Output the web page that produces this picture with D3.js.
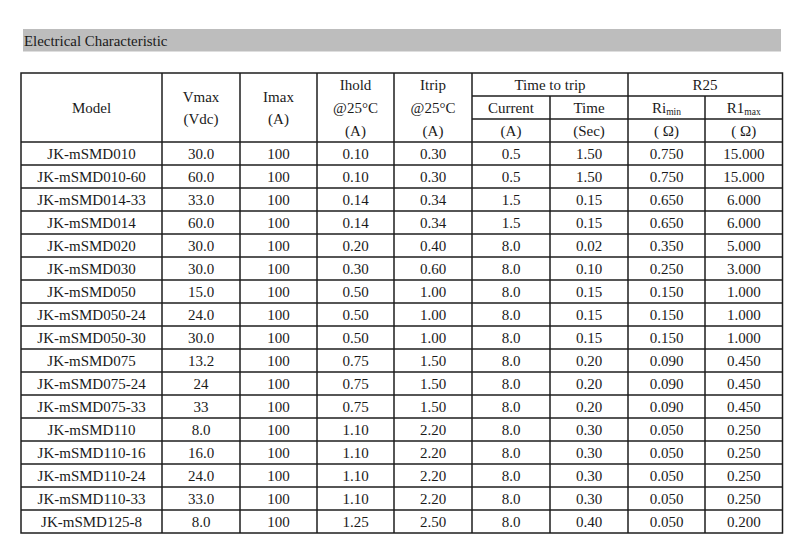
<!DOCTYPE html>
<html>
<head>
<meta charset="utf-8">
<script src="https://cdn.jsdelivr.net/npm/d3@7"></script>
<style>
  body { margin: 0; background: #fff; }
  svg text { font-family: "Liberation Serif", "Times New Roman", serif; fill: #1a1a1a; }
</style>
</head>
<body>
<div id="table"></div>
<script>
// Table data
const models = [
  'JK-mSMD010', 'JK-mSMD010-60', 'JK-mSMD014-33', 'JK-mSMD014', 'JK-mSMD020',
  'JK-mSMD030', 'JK-mSMD050', 'JK-mSMD050-24', 'JK-mSMD050-30', 'JK-mSMD075',
  'JK-mSMD075-24', 'JK-mSMD075-33', 'JK-mSMD110', 'JK-mSMD110-16', 'JK-mSMD110-24',
  'JK-mSMD110-33', 'JK-mSMD125-8'
];
const vmax = ['30.0', '60.0', '33.0', '60.0', '30.0', '30.0', '15.0', '24.0', '30.0', '13.2',
  '24', '33', '8.0', '16.0', '24.0', '33.0', '8.0'];
const imax = ['100', '100', '100', '100', '100', '100', '100', '100', '100', '100',
  '100', '100', '100', '100', '100', '100', '100'];
const ihold = ['0.10', '0.10', '0.14', '0.14', '0.20', '0.30', '0.50', '0.50', '0.50', '0.75',
  '0.75', '0.75', '1.10', '1.10', '1.10', '1.10', '1.25'];
const itrip = ['0.30', '0.30', '0.34', '0.34', '0.40', '0.60', '1.00', '1.00', '1.00', '1.50',
  '1.50', '1.50', '2.20', '2.20', '2.20', '2.20', '2.50'];
const tripCurrent = ['0.5', '0.5', '1.5', '1.5', '8.0', '8.0', '8.0', '8.0', '8.0', '8.0',
  '8.0', '8.0', '8.0', '8.0', '8.0', '8.0', '8.0'];
const tripTime = ['1.50', '1.50', '0.15', '0.15', '0.02', '0.10', '0.15', '0.15', '0.15', '0.20',
  '0.20', '0.20', '0.30', '0.30', '0.30', '0.30', '0.40'];
const riMin = ['0.750', '0.750', '0.650', '0.650', '0.350', '0.250', '0.150', '0.150', '0.150', '0.090',
  '0.090', '0.090', '0.050', '0.050', '0.050', '0.050', '0.050'];
const r1Max = ['15.000', '15.000', '6.000', '6.000', '5.000', '3.000', '1.000', '1.000', '1.000', '0.450',
  '0.450', '0.450', '0.250', '0.250', '0.250', '0.250', '0.200'];

const columns = [models, vmax, imax, ihold, itrip, tripCurrent, tripTime, riMin, r1Max];

document.addEventListener('DOMContentLoaded', () => {
  drawTable();
});

function drawTable() {
  const width = 800;
  const height = 543;
  const lineColor = '#1e1e1e';
  const fontSize = 15;

  // column edges of the grid
  const edges = [21, 162, 240, 317, 394, 472, 550, 628, 705, 782.5];
  const top = 73;
  const rowH = 23;
  const headRows = 3;
  const nRows = models.length;
  const bottom = top + (headRows + nRows) * rowH;

  const svg = d3.select('#table')
    .append('svg')
    .attr('width', width)
    .attr('height', height);

  // Title bar
  svg.append('rect')
    .attr('x', 23)
    .attr('y', 29)
    .attr('width', 758)
    .attr('height', 22.5)
    .attr('fill', '#bdbdbd');

  svg.append('text')
    .attr('x', 24)
    .attr('y', 45.5)
    .style('font-size', '14.9px')
    .text('Electrical Characteristic');

  const y = d3.scaleBand()
    .domain(d3.range(nRows))
    .range([top + headRows * rowH, bottom]);

  const cx = i => (edges[i] + edges[i + 1]) / 2;

  // Body cells
  const body = svg.append('g');
  columns.forEach((col, ci) => {
    body.selectAll(null)
      .data(col)
      .enter()
      .append('text')
      .attr('x', cx(ci))
      .attr('y', (d, i) => y(i) + y.bandwidth() / 2)
      .attr('dy', '0.35em')
      .style('text-anchor', 'middle')
      .style('font-size', fontSize + 'px')
      .text(d => d);
  });

  // Header text
  const head = svg.append('g')
    .style('font-size', fontSize + 'px')
    .style('text-anchor', 'middle');
  const hy = r => top + rowH * r + rowH / 2;
  const addHead = (x, yy, txt) => head.append('text')
    .attr('x', x).attr('y', yy).attr('dy', '0.35em').text(txt);

  addHead(cx(0), hy(1), 'Model');
  addHead(cx(1), hy(1) - 11, 'Vmax');
  addHead(cx(1), hy(1) + 11.5, '(Vdc)');
  addHead(cx(2), hy(1) - 11, 'Imax');
  addHead(cx(2), hy(1) + 11.5, '(A)');
  ['Ihold', '@25°C', '(A)'].forEach((t, r) => addHead(cx(3), hy(r), t));
  ['Itrip', '@25°C', '(A)'].forEach((t, r) => addHead(cx(4), hy(r), t));
  addHead(edges[6], hy(0), 'Time to trip');
  addHead(edges[8], hy(0), 'R25');
  addHead(cx(5), hy(1), 'Current');
  addHead(cx(6), hy(1), 'Time');
  addHead(cx(5), hy(2), '(A)');
  addHead(cx(6), hy(2), '(Sec)');
  addHead(cx(7), hy(2), '( Ω)');
  addHead(cx(8), hy(2), '( Ω)');

  const sub = (x, base, s) => {
    const t = addHead(x, hy(1), null);
    t.append('tspan').text(base);
    t.append('tspan')
      .attr('dy', '0.2em')
      .style('font-size', '9.5px')
      .text(s);
  };
  sub(cx(7), 'Ri', 'min');
  sub(cx(8), 'R1', 'max');

  // Grid lines
  const grid = svg.append('g')
    .attr('stroke', lineColor)
    .attr('stroke-width', 1.5)
    .attr('fill', 'none');

  grid.append('rect')
    .attr('x', edges[0])
    .attr('y', top)
    .attr('width', edges[9] - edges[0])
    .attr('height', bottom - top);

  // vertical lines
  edges.slice(1, 9).forEach((x, i) => {
    const idx = i + 1;
    let y1 = top;
    if (idx === 6 || idx === 8) y1 = top + rowH; // spanned headers
    grid.append('line')
      .attr('x1', x).attr('x2', x)
      .attr('y1', y1).attr('y2', bottom);
  });

  // header inner horizontals
  [1, 2].forEach(r => {
    grid.append('line')
      .attr('x1', edges[5]).attr('x2', edges[9])
      .attr('y1', top + r * rowH).attr('y2', top + r * rowH);
  });

  // body horizontals
  d3.range(nRows).forEach(i => {
    grid.append('line')
      .attr('x1', edges[0]).attr('x2', edges[9])
      .attr('y1', y(i)).attr('y2', y(i));
  });
}
</script>
</body>
</html>
